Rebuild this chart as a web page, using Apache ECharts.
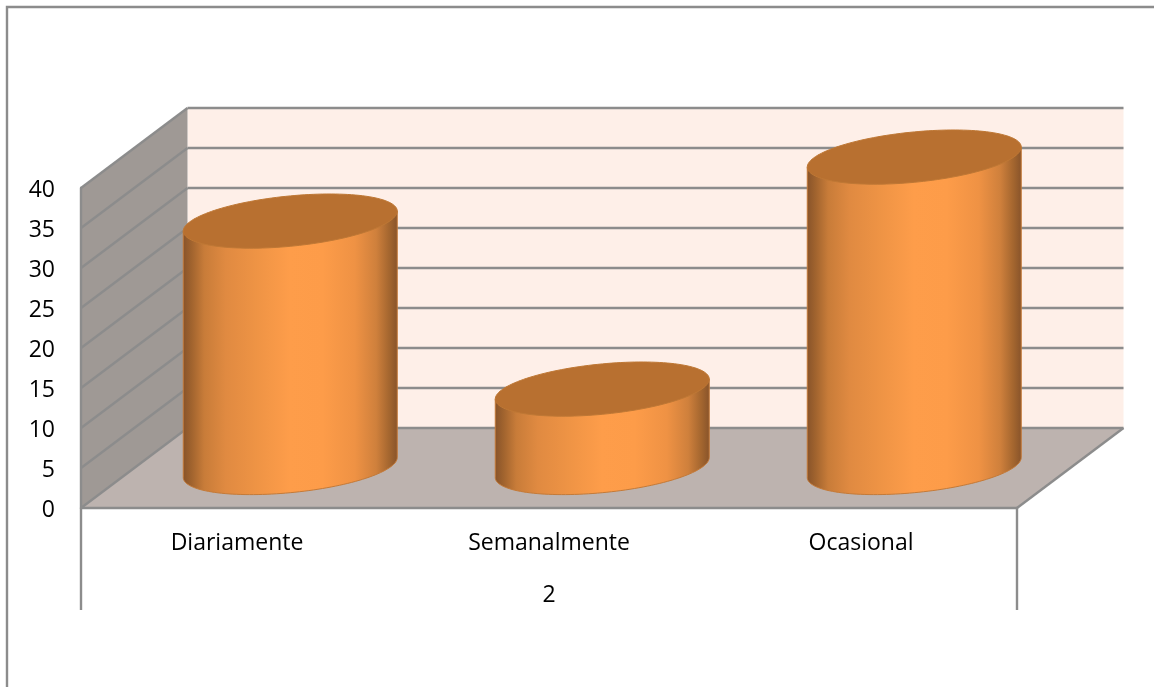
<!DOCTYPE html>
<html>
<head>
<meta charset="utf-8">
<style>html,body{margin:0;padding:0;background:#fff}#chart{width:1154px;height:687px}</style>
<script src="https://cdn.jsdelivr.net/npm/echarts@6/dist/echarts.min.js"></script>
</head>
<body>
<div id="chart"></div>
<script>
// Chart data
const categories = ['Diariamente', 'Semanalmente', 'Ocasional'];
const groupLabels = ['2'];
const values = [30.8, 9.8, 38.8];
const tickValues = [0, 5, 10, 15, 20, 25, 30, 35, 40];

// Oblique projection of the box: how far the back plane sits from the front plane
const DEPTH_X = 106.5;
const DEPTH_Y = -80;
// Cylinder footprint: half width, horizontal-tilt shear and half depth of the ellipse
const RADIUS_X = 107;
const SHEAR_Y = 10;
const RADIUS_Y = 25.2;

const LINE = '#8c8c8c';
const LINE_WIDTH = 2.4;
const bodyFill = new echarts.graphic.LinearGradient(0, 0, 1, 0, [
  { offset: 0, color: '#87532a' },
  { offset: 0.04, color: '#a0632e' },
  { offset: 0.1, color: '#c87c39' },
  { offset: 0.2, color: '#e08a41' },
  { offset: 0.35, color: '#ef9445' },
  { offset: 0.5, color: '#fe9d4a' },
  { offset: 0.65, color: '#fd9c49' },
  { offset: 0.8, color: '#ef9244' },
  { offset: 0.9, color: '#cf803c' },
  { offset: 0.96, color: '#a4662f' },
  { offset: 1, color: '#87532a' }
]);

function ellipsePoint(cx, cy, t) {
  return [
    cx + RADIUS_X * Math.cos(t),
    cy - SHEAR_Y * Math.cos(t) + RADIUS_Y * Math.sin(t)
  ];
}

// Side wall, floor and back wall of the box
function renderWalls(params, api) {
  const cs = params.coordSys;
  const left = cs.x, right = cs.x + cs.width;
  const floorY = api.coord([0, 0])[1];
  const topY = api.coord([0, tickValues[tickValues.length - 1]])[1];
  return {
    type: 'group',
    children: [
      { type: 'polygon', shape: { points: [[left + DEPTH_X, topY + DEPTH_Y], [right + DEPTH_X, topY + DEPTH_Y], [right + DEPTH_X, floorY + DEPTH_Y], [left + DEPTH_X, floorY + DEPTH_Y]] }, style: { fill: '#feefe8' } },
      { type: 'polygon', shape: { points: [[left, topY], [left + DEPTH_X, topY + DEPTH_Y], [left + DEPTH_X, floorY + DEPTH_Y], [left, floorY]] }, style: { fill: '#9f9995' } },
      { type: 'polygon', shape: { points: [[left, floorY], [left + DEPTH_X, floorY + DEPTH_Y], [right + DEPTH_X, floorY + DEPTH_Y], [right, floorY]] }, style: { fill: '#bdb3af' } },
      { type: 'line', shape: { x1: right, y1: floorY, x2: right + DEPTH_X, y2: floorY + DEPTH_Y }, style: { stroke: LINE, lineWidth: LINE_WIDTH } }
    ]
  };
}

// One gridline per tick, running along the side wall and across the back wall
function renderGridline(params, api) {
  const cs = params.coordSys;
  const left = cs.x, right = cs.x + cs.width;
  const y = api.coord([0, api.value(0)])[1];
  return {
    type: 'group',
    children: [
      { type: 'line', shape: { x1: left, y1: y, x2: left + DEPTH_X, y2: y + DEPTH_Y }, style: { stroke: LINE, lineWidth: LINE_WIDTH } },
      { type: 'line', shape: { x1: left + DEPTH_X, y1: y + DEPTH_Y, x2: right + DEPTH_X, y2: y + DEPTH_Y }, style: { stroke: LINE, lineWidth: LINE_WIDTH } }
    ]
  };
}

// A cylinder standing mid-depth on the floor, rising to its value
function renderCylinder(params, api) {
  const idx = api.value(0);
  const base = api.coord([idx, 0]);
  const top = api.coord([idx, api.value(1)]);
  const cx = base[0] + DEPTH_X / 2;
  const baseY = base[1] + DEPTH_Y / 2 - 0.5;
  const topY = top[1] + DEPTH_Y / 2 - 0.5;
  const steps = 72;
  const body = [ellipsePoint(cx, topY, Math.PI)];
  for (let i = 0; i <= steps; i++) {
    body.push(ellipsePoint(cx, baseY, Math.PI - (Math.PI * i) / steps));
  }
  body.push(ellipsePoint(cx, topY, 0));
  const cap = [];
  for (let i = 0; i < steps * 2; i++) {
    cap.push(ellipsePoint(cx, topY, (Math.PI * i) / steps));
  }
  return {
    type: 'group',
    children: [
      { type: 'polygon', shape: { points: body }, style: { fill: bodyFill, stroke: '#c47a38', lineWidth: 1 } },
      { type: 'polygon', shape: { points: cap }, style: { fill: '#b87030', stroke: '#bf7835', lineWidth: 1 } }
    ]
  };
}

const chart = echarts.init(document.getElementById('chart'), null, { renderer: 'canvas' });
const textStyle = { color: '#000', fontFamily: 'Open Sans', fontSize: 23 };

chart.setOption({
  animation: false,
  backgroundColor: '#fff',
  grid: { left: 81, top: 188, width: 936, height: 320 },
  xAxis: [
    {
      type: 'category',
      data: categories,
      z: 5,
      axisLine: { show: true, lineStyle: { color: LINE, width: LINE_WIDTH } },
      axisTick: { show: false },
      axisLabel: { ...textStyle, margin: 24, interval: 0 }
    },
    {
      type: 'category',
      data: groupLabels,
      position: 'bottom',
      z: 5,
      axisLine: { show: false },
      axisTick: { show: true, length: 102, lineStyle: { color: LINE, width: LINE_WIDTH } },
      axisLabel: { ...textStyle, margin: 76 }
    }
  ],
  yAxis: {
    type: 'value',
    min: 0,
    max: 40,
    interval: 5,
    z: 5,
    axisLine: { show: true, lineStyle: { color: LINE, width: LINE_WIDTH } },
    axisTick: { show: false },
    splitLine: { show: false },
    axisLabel: {
      margin: 26,
      formatter: '{t|{value}}',
      rich: { t: { ...textStyle, padding: [4, 0, 0, 0] } }
    }
  },
  graphic: [
    {
      type: 'polyline',
      shape: { points: [[7, 687], [7, 7], [1154, 7]] },
      style: { stroke: LINE, lineWidth: LINE_WIDTH, fill: null }
    }
  ],
  series: [
    { type: 'custom', name: 'walls', z: 1, renderItem: renderWalls, data: [[0, 0]], silent: true },
    { type: 'custom', name: 'gridlines', z: 2, renderItem: renderGridline, data: tickValues.map(v => [v]), encode: { y: 0 }, silent: true },
    { type: 'custom', name: 'values', z: 3, renderItem: renderCylinder, data: values.map((v, i) => [i, v]), encode: { x: 0, y: 1 } }
  ]
});
</script>
</body>
</html>
